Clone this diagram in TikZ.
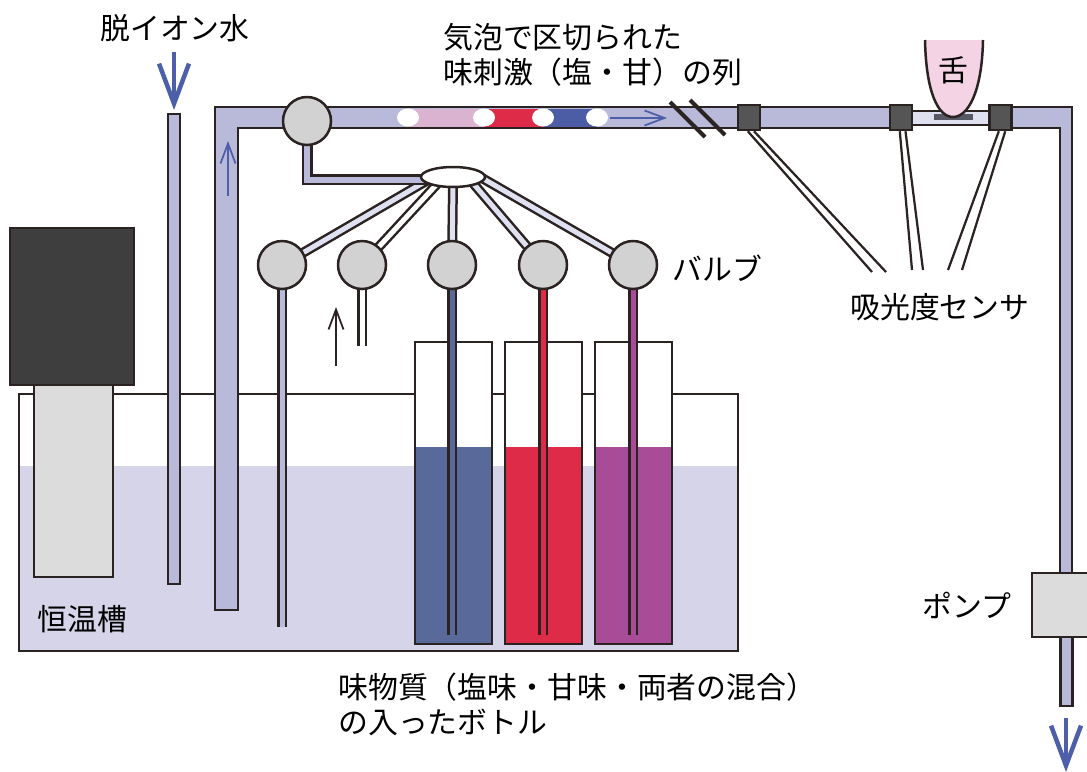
\documentclass[tikz,border=0pt]{standalone}
\usepackage{fontspec}
\setmainfont{Noto Sans CJK JP}
\usepackage{tikz}
\usetikzlibrary{arrows.meta, shapes.geometric}

\definecolor{ink}{HTML}{2B2222}
\definecolor{lav}{HTML}{B9B9DA}
\definecolor{palelav}{HTML}{DFE1F1}
\definecolor{bathwater}{HTML}{D5D4E9}
\definecolor{valvegrey}{HTML}{D2D2D2}
\definecolor{unitgrey}{HTML}{DCDCDC}
\definecolor{unitdark}{HTML}{3E3E3E}
\definecolor{sensorgrey}{HTML}{555555}
\definecolor{plategrey}{HTML}{565863}
\definecolor{tonguepink}{HTML}{F3D3E4}
\definecolor{saltblue}{HTML}{596A9A}
\definecolor{sweetred}{HTML}{DE2B47}
\definecolor{mixpurple}{HTML}{A94C97}
\definecolor{bubblepink}{HTML}{D9B3CF}
\definecolor{bubbleblue}{HTML}{4C5DA6}
\definecolor{flowblue}{HTML}{4D5FA8}

\begin{document}
\begin{tikzpicture}[
  x=0.02cm, y=-0.02cm,
  wall/.style={draw=ink, line width=0.05cm},
  tube/.style={draw=ink, line width=0.05cm, double=#1, double distance=0.1cm},
  tube/.default=palelav,
  valve/.style={circle, wall, fill=valvegrey, minimum size=0.96cm, inner sep=0pt},
  manifold/.style={ellipse, wall, fill=white, minimum width=1.28cm,
    minimum height=0.4cm, inner sep=0pt},
  sensor/.style={rectangle, wall, fill=sensorgrey, minimum width=0.44cm,
    minimum height=0.5cm, inner sep=0pt},
  lead/.style={draw=ink, line width=0.045cm},
  flow/.style={draw=flowblue, line width=0.09cm, -{Straight Barb[length=0.8cm, width=0.6cm]}},
  smallarrow/.style={line width=0.035cm, -{Straight Barb[length=0.4cm, width=0.3cm]}},
  jtext/.style={font=\fontsize{17}{20}\selectfont, inner sep=0pt, align=left}
]
  \useasboundingbox (0,0) rectangle (1087,771);
  \clip (0,0) rectangle (1087,771);

  % constant temperature bath and its unit
  \fill[bathwater] (19,466) rectangle (738,651);
  \draw[wall] (19,394) rectangle (738,651);
  \draw[wall, fill=unitgrey] (34,380) rectangle (113,577);
  \draw[wall, fill=unitdark] (10,228) rectangle (134,385);

  % water inlet and main line
  \draw[wall, fill=lav] (168,114) rectangle (180,584);
  \draw[wall, fill=lav] (215,610) -- (215,107) -- (901,107) -- (901,128)
    -- (238,128) -- (238,610) -- cycle;
  \draw[wall, fill=palelav] (901,111) rectangle (1000,125);
  \draw[wall, fill=lav] (1000,107) -- (1072,107) -- (1072,573) -- (1060,573)
    -- (1060,128) -- (1000,128) -- cycle;
  \draw[wall, fill=lav] (1060.5,637) rectangle (1072.5,706);

  % bottles
  \foreach \bx/\liq in {415/saltblue, 505/sweetred, 595/mixpurple} {
    \draw[wall, fill=white] (\bx,342) rectangle ++(77,302);
    \fill[\liq] (\bx,447) rectangle ++(77,197);
    \draw[wall] (\bx,342) rectangle ++(77,302);
  }

  % valve positions
  \coordinate (c0) at (307,121);
  \coordinate (c1) at (282,265);
  \coordinate (c2) at (362,265);
  \coordinate (c3) at (452,265);
  \coordinate (c4) at (543,265);
  \coordinate (c5) at (633,265);
  \coordinate (cm) at (453,177);

  % ends of the spokes inside the manifold
  \coordinate (m0) at (440,179.5);
  \coordinate (m1) at (428,180);
  \coordinate (m2) at (438,183);
  \coordinate (m3) at (453,183);
  \coordinate (m4) at (472,182);
  \coordinate (m5) at (482,178);

  % lines below the valves
  \coordinate (d1) at (282,627);
  \coordinate (d2) at (362,346);
  \draw[tube=lav] (c1) -- (d1);
  \draw[tube=white] (c2) -- (d2);
  \foreach \i/\liq in {3/saltblue, 4/sweetred, 5/mixpurple}
    \draw[tube=\liq] (c\i) -- (c\i |- 0,635);

  % spokes to the manifold
  \draw[tube] (c1) -- (m1);
  \draw[tube=white] (c2) -- (m2);
  \draw[tube] (c3) -- (m3);
  \draw[tube] (c4) -- (m4);
  \draw[tube] (c5) -- (m5);
  \draw[tube=lav, double distance=0.12cm] (c0) |- (m0);
  \node[manifold] (mani) at (cm) {};

  \foreach \i in {0,...,5}
    \node[valve] (v\i) at (c\i) {};

  % stimulus train with air bubbles
  \fill[bubblepink] (408,108.5) rectangle (484,126.5);
  \fill[sweetred] (484,108.5) rectangle (543,126.5);
  \fill[bubbleblue] (543,108.5) rectangle (597,126.5);
  \foreach \x in {408,484,543,597}
    \fill[white] (\x,117.5) ellipse [x radius=11, y radius=9];
  \draw[smallarrow, flowblue] (610,118) -- (667,118);

  % break in the line
  \draw[ink, line width=0.08cm] (670,102) -- (705,137);
  \draw[ink, line width=0.08cm] (690,100) -- (725,135);

  % tongue on the window
  \fill[plategrey] (934,114) rectangle (973,120);
  \draw[wall, fill=tonguepink] (925,40) .. controls (926,92) and (938,117) .. (953,117)
    .. controls (968,117) and (982,92) .. (983,40);

  % absorbance sensors
  \node[sensor] (s1) at (749,117.5) {};
  \node[sensor] (s2) at (901,117.5) {};
  \node[sensor] (s3) at (1000.5,117.5) {};
  \coordinate (e1) at (872,272); \coordinate (f1) at (886,272);
  \coordinate (e2) at (912,270); \coordinate (f2) at (923,270);
  \coordinate (e3) at (948,270); \coordinate (f3) at (962,270);
  \draw[lead] (s1.-95) -- (e1);
  \draw[lead] (s1.-70) -- (f1);
  \draw[lead] (s2.-95) -- (e2);
  \draw[lead] (s2.-72) -- (f2);
  \draw[lead] (s3.-97) -- (e3);
  \draw[lead] (s3.-71) -- (f3);

  % pump
  \draw[wall, fill=unitgrey] (1032,573) rectangle (1100,637);

  % flow directions
  \coordinate (inA) at (174,52);  \coordinate (inB) at (174,110);
  \coordinate (outA) at (1066,718); \coordinate (outB) at (1066,772);
  \draw[flow] (inA) -- (inB);
  \draw[flow] (outA) -- (outB);
  \coordinate (upA) at (228,196); \coordinate (upB) at (228,141);
  \draw[smallarrow, flowblue] (upA) -- (upB);
  \coordinate (airA) at (336,366); \coordinate (airB) at (336,307);
  \draw[smallarrow, ink] (airA) -- (airB);

  % labels
  \node[jtext, anchor=west] (ionlabel) at (100,28) {脱イオン水};
  \node[jtext, anchor=west] (trainlabel) at (443,54.5) {気泡で区切られた\\味刺激（塩・甘）の列};
  \node[jtext] (tonguelabel) at (953,70) {舌};
  \node[jtext, anchor=west] (valvelabel) at (672,268) {バルブ};
  \node[jtext, anchor=west] (sensorlabel) at (850,307) {吸光度センサ};
  \node[jtext, anchor=west] (bathlabel) at (37,619) {恒温槽};
  \node[jtext, anchor=west] (pumplabel) at (922,605) {ポンプ};
  \node[jtext, anchor=west] (bottlelabel) at (338,704) {味物質（塩味・甘味・両者の混合）\\の入ったボトル};
\end{tikzpicture}
\end{document}
